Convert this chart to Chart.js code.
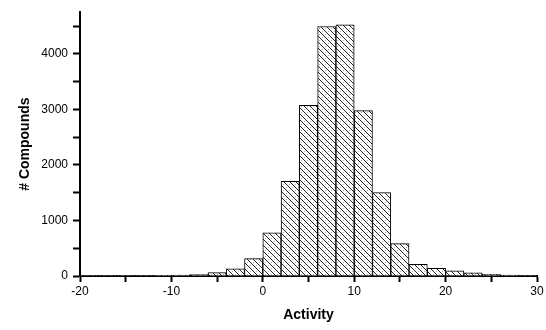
<!DOCTYPE html>
<html>
<head>
<meta charset="utf-8">
<script src="https://cdn.jsdelivr.net/npm/chart.js@4/dist/chart.umd.min.js"></script>
<style>
  html, body { margin: 0; padding: 0; background: #fff; }
  #wrap { width: 546px; height: 330px; }
</style>
</head>
<body>
<div id="wrap"><canvas id="c" width="546" height="330"></canvas></div>
<script>
// Histogram bin centres (bin width 2) and counts
const binCenters = [-19, -17, -15, -13, -11, -9, -7, -5, -3, -1, 1, 3, 5, 7, 9, 11, 13, 15, 17, 19, 21, 23, 25, 27, 29];
const counts     = [8, 8, 10, 10, 12, 15, 25, 62, 130, 312, 779, 1706, 3071, 4492, 4522, 2977, 1503, 583, 208, 137, 95, 55, 30, 15, 8];
// tick marks (major + minor) and which of them carry labels
const xTickValues = [-20, -15, -10, -5, 0, 5, 10, 15, 20, 25, 30];
const xTickLabels = [-20, -10, 0, 10, 20, 30];
const yTickValues = [0, 500, 1000, 1500, 2000, 2500, 3000, 3500, 4000, 4500];
const yTickLabels = [0, 1000, 2000, 3000, 4000];

function makePattern() {
  const p = document.createElement('canvas');
  p.width = 6; p.height = 6;
  const g = p.getContext('2d');
  g.fillStyle = '#ffffff';
  g.fillRect(0, 0, 6, 6);
  g.fillStyle = '#b0b0b0';
  g.fillRect(4, 1, 1, 1);
  g.fillRect(1, 4, 1, 1);
  g.strokeStyle = '#222';
  g.lineWidth = 1;
  g.beginPath();
  g.moveTo(-1, -1); g.lineTo(7, 7);
  g.moveTo(-7, -1); g.lineTo(1, 7);
  g.moveTo(5, -1); g.lineTo(13, 7);
  g.stroke();
  return g.createPattern(p, 'repeat');
}

const ctx = document.getElementById('c').getContext('2d');
const pattern = makePattern();

new Chart(ctx, {
  type: 'bar',
  data: {
    datasets: [{
      data: binCenters.map((x, i) => ({ x: x, y: counts[i] })),
      backgroundColor: pattern,
      borderColor: '#000',
      borderWidth: 1,
      barPercentage: 1,
      categoryPercentage: 1
    }]
  },
  options: {
    responsive: false,
    animation: false,
    layout: { padding: { left: 0, right: 9, top: 10, bottom: 0 } },
    plugins: { legend: { display: false }, tooltip: { enabled: false } },
    scales: {
      x: {
        type: 'linear',
        min: -20, max: 30,
        offset: false,
        afterBuildTicks: (s) => { s.ticks = xTickValues.map(v => ({ value: v })); },
        grid: { display: true, offset: false, drawOnChartArea: false, drawTicks: true, tickLength: 6, tickWidth: 2, tickColor: '#000' },
        border: { display: true, color: '#000', width: 2 },
        ticks: {
          autoSkip: false,
          maxRotation: 0,
          padding: 2,
          color: '#000',
          font: { family: 'Liberation Sans', size: 12 },
          callback: (v) => xTickLabels.includes(v) ? String(v) : ''
        },
        title: {
          display: true, text: 'Activity', color: '#000',
          font: { family: 'Liberation Sans', size: 14, weight: 'bold' },
          padding: { top: 0, bottom: 6 }
        },
        afterFit: (s) => { s.height = 54; }
      },
      y: {
        type: 'linear',
        min: 0, max: 4750,
        afterBuildTicks: (s) => { s.ticks = yTickValues.map(v => ({ value: v })); },
        grid: { display: true, drawOnChartArea: false, drawTicks: true, tickLength: 7, tickWidth: 2, tickColor: '#000' },
        border: { display: true, color: '#000', width: 2 },
        ticks: {
          autoSkip: false,
          padding: 5,
          color: '#000',
          font: { family: 'Liberation Sans', size: 12 },
          callback: (v) => yTickLabels.includes(v) ? String(v) : ''
        },
        title: {
          display: true, text: '# Compounds', color: '#000',
          font: { family: 'Liberation Sans', size: 14, weight: 'bold' },
          padding: { top: 17, bottom: 0 }
        },
        afterFit: (s) => { s.width = 80; }
      }
    }
  }
});
</script>
</body>
</html>
